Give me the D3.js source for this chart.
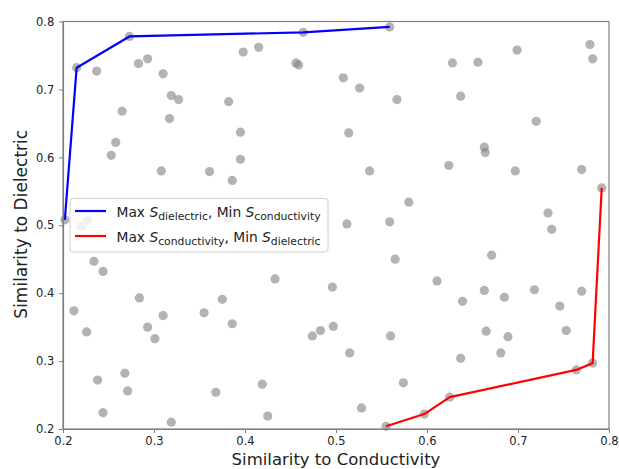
<!DOCTYPE html>
<html><head><meta charset="utf-8">
<script src="https://cdn.jsdelivr.net/npm/d3@7"></script>
<style>body{margin:0;background:#fff;} text{font-family:"DejaVu Sans",sans-serif;}</style>
</head><body>
<svg id="c" width="619" height="469"></svg>
<script>
const pointsX = [0.202,0.215,0.237,0.273,0.283,0.293,0.310,0.319,0.327,0.265,0.317,0.258,0.253,0.464,0.559,0.398,0.415,0.456,0.459,0.508,0.526,0.567,0.382,0.395,0.514,0.395,0.779,0.782,0.699,0.628,0.656,0.637,0.720,0.663,0.664,0.308,0.361,0.220,0.227,0.234,0.244,0.284,0.212,0.386,0.537,0.580,0.382,0.512,0.559,0.565,0.433,0.496,0.375,0.355,0.624,0.697,0.770,0.792,0.733,0.737,0.671,0.611,0.663,0.639,0.685,0.718,0.770,0.746,0.226,0.293,0.310,0.301,0.268,0.271,0.238,0.244,0.319,0.386,0.474,0.483,0.497,0.515,0.560,0.574,0.368,0.419,0.425,0.528,0.555,0.665,0.689,0.753,0.637,0.681,0.764,0.782,0.625,0.597];
const pointsY = [0.508,0.732,0.727,0.778,0.738,0.745,0.723,0.691,0.685,0.668,0.657,0.622,0.603,0.784,0.792,0.755,0.762,0.739,0.736,0.717,0.702,0.685,0.682,0.637,0.636,0.597,0.766,0.745,0.758,0.739,0.740,0.690,0.653,0.615,0.607,0.580,0.579,0.498,0.507,0.447,0.432,0.393,0.374,0.566,0.580,0.534,0.510,0.502,0.505,0.450,0.421,0.409,0.391,0.371,0.588,0.580,0.582,0.555,0.518,0.494,0.456,0.418,0.404,0.388,0.394,0.405,0.403,0.381,0.343,0.350,0.367,0.333,0.282,0.256,0.272,0.224,0.210,0.355,0.337,0.345,0.351,0.312,0.337,0.268,0.254,0.266,0.219,0.231,0.204,0.344,0.336,0.345,0.304,0.312,0.287,0.297,0.247,0.222];
const blueX = [0.202,0.215,0.273,0.464,0.559];
const blueY = [0.508,0.732,0.778,0.784,0.792];
const redX = [0.555,0.597,0.625,0.764,0.782,0.792];
const redY = [0.204,0.222,0.247,0.287,0.297,0.555];
const xTicks = [0.2,0.3,0.4,0.5,0.6,0.7,0.8];
const yTicks = [0.2,0.3,0.4,0.5,0.6,0.7,0.8];

const svg = d3.select("#c");
const L=63, R=609, T=21.5, B=429;
const x = d3.scaleLinear().domain([0.2,0.8]).range([L,R]);
const y = d3.scaleLinear().domain([0.2,0.8]).range([B,T]);

const g = svg.append("g");
g.selectAll("circle").data(pointsX.map((v,i)=>[v,pointsY[i]])).join("circle")
  .attr("cx",d=>x(d[0])).attr("cy",d=>y(d[1])).attr("r",4.6)
  .attr("fill","#808080").attr("fill-opacity",0.6);

const line = d3.line().x(d=>x(d[0])).y(d=>y(d[1]));
g.append("path").datum(blueX.map((v,i)=>[v,blueY[i]])).attr("d",line)
  .attr("fill","none").attr("stroke","#0000ff").attr("stroke-width",2.2).attr("stroke-linejoin","round");
g.append("path").datum(redX.map((v,i)=>[v,redY[i]])).attr("d",line)
  .attr("fill","none").attr("stroke","#ff0000").attr("stroke-width",2.2).attr("stroke-linejoin","round");

// frame
svg.append("rect").attr("x",L).attr("y",T).attr("width",R-L).attr("height",B-T)
  .attr("fill","none").attr("stroke","#808080").attr("stroke-width",1.2);

const xa = svg.append("g").attr("transform",`translate(0,${B})`)
  .call(d3.axisBottom(x).tickValues(xTicks).tickFormat(d3.format(".1f")).tickSize(4).tickSizeOuter(0));
const ya = svg.append("g").attr("transform",`translate(${L},0)`)
  .call(d3.axisLeft(y).tickValues(yTicks).tickFormat(d3.format(".1f")).tickSize(4).tickSizeOuter(0));
[xa,ya].forEach(a=>{
  a.select(".domain").attr("stroke","#808080").attr("stroke-width",1.2);
  a.selectAll(".tick line").attr("stroke","#808080");
  a.selectAll(".tick text").attr("font-size",11.5).attr("fill","#222").attr("font-family","DejaVu Sans");
});
xa.selectAll(".tick text").attr("dy","0.74em");
ya.selectAll(".tick text").attr("dx","-0.15em");

svg.append("text").attr("x",(L+R)/2).attr("y",465).attr("text-anchor","middle")
  .attr("font-size",16.5).attr("fill","#222").text("Similarity to Conductivity");
svg.append("text").attr("transform",`translate(27,${(T+B)/2 - 1}) rotate(-90)`).attr("text-anchor","middle")
  .attr("font-size",17).attr("fill","#222").text("Similarity to Dielectric");

// legend
const lg = svg.append("g");
lg.append("rect").attr("x",70).attr("y",198.5).attr("width",258).attr("height",53.5).attr("rx",3)
  .attr("fill","#fff").attr("fill-opacity",0.8).attr("stroke","#d0d0d0").attr("stroke-width",1);
const items = [
  {c:"#0000ff", a:"dielectric", b:"conductivity", yy:211},
  {c:"#ff0000", a:"conductivity", b:"dielectric", yy:236}
];
items.forEach(it=>{
  lg.append("line").attr("x1",75).attr("x2",106).attr("y1",it.yy).attr("y2",it.yy)
    .attr("stroke",it.c).attr("stroke-width",2.2);
  const t = lg.append("text").attr("x",116.5).attr("y",it.yy+5.5).attr("font-size",13.8).attr("fill","#222");
  t.append("tspan").text("Max ");
  t.append("tspan").attr("font-style","italic").text("S");
  t.append("tspan").attr("font-size",10.8).attr("dy",3).text(it.a);
  t.append("tspan").attr("dy",-3).text(", Min ");
  t.append("tspan").attr("font-style","italic").text("S");
  t.append("tspan").attr("font-size",10.8).attr("dy",3).text(it.b);
});
</script>
</body></html>
